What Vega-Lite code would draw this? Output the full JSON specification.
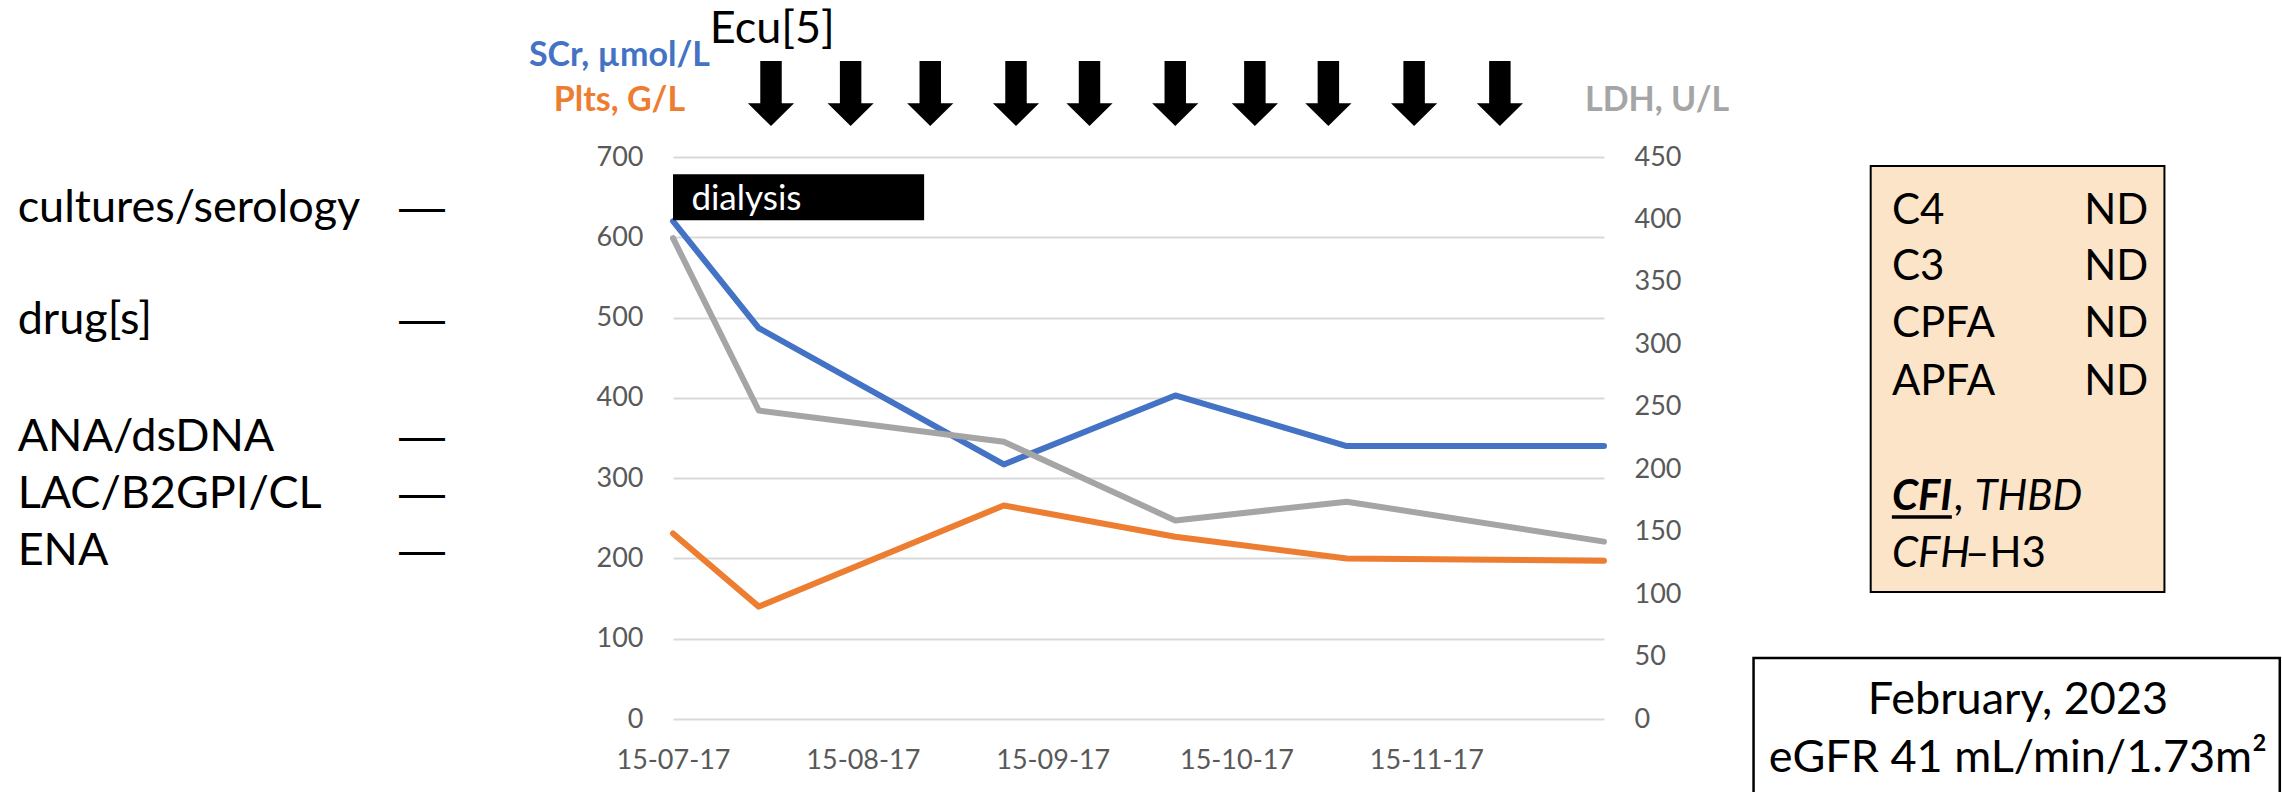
{
  "$schema": "https://vega.github.io/schema/vega-lite/v6.json",
  "width": 931,
  "height": 562,
  "autosize": {"type": "none"},
  "padding": {"left": 673, "top": 157, "right": 678, "bottom": 73},
  "background": "white",
  "config": {
    "view": {"stroke": null},
    "font": "Lato",
    "axis": {"labelFont": "Lato", "labelFontSize": 27, "labelColor": "#595959", "domain": false, "ticks": false, "title": null}
  },
  "datasets": {
    "labs": [
      {"date": "2017-07-15", "series": "SCr", "value": 620},
      {"date": "2017-07-29", "series": "SCr", "value": 487},
      {"date": "2017-09-07", "series": "SCr", "value": 317},
      {"date": "2017-10-05", "series": "SCr", "value": 403},
      {"date": "2017-11-02", "series": "SCr", "value": 340},
      {"date": "2017-12-14", "series": "SCr", "value": 340},
      {"date": "2017-07-15", "series": "Plts", "value": 231},
      {"date": "2017-07-29", "series": "Plts", "value": 140},
      {"date": "2017-09-07", "series": "Plts", "value": 266},
      {"date": "2017-10-05", "series": "Plts", "value": 227},
      {"date": "2017-11-02", "series": "Plts", "value": 200},
      {"date": "2017-12-14", "series": "Plts", "value": 197},
      {"date": "2017-07-15", "series": "LDH", "value": 385},
      {"date": "2017-07-29", "series": "LDH", "value": 247},
      {"date": "2017-09-07", "series": "LDH", "value": 222},
      {"date": "2017-10-05", "series": "LDH", "value": 159},
      {"date": "2017-11-02", "series": "LDH", "value": 174},
      {"date": "2017-12-14", "series": "LDH", "value": 142}
    ],
    "ecu": [
      {"date": "2017-07-31", "level": 779},
      {"date": "2017-08-13", "level": 779},
      {"date": "2017-08-26", "level": 779},
      {"date": "2017-09-09", "level": 779},
      {"date": "2017-09-21", "level": 779},
      {"date": "2017-10-05", "level": 779},
      {"date": "2017-10-18", "level": 779},
      {"date": "2017-10-30", "level": 779},
      {"date": "2017-11-13", "level": 779},
      {"date": "2017-11-27", "level": 779}
    ],
    "dialysis": [
      {"start": "2017-07-15", "end": "2017-08-25", "low": 621.2, "high": 678.5, "label": "dialysis", "labelDate": "2017-07-18", "labelLevel": 634}
    ],
    "notes": [
      {"date": "2017-07-21", "level": 842, "text": "Ecu[5]"},
      {"date": "2017-03-30", "level": 619, "text": "cultures/serology"},
      {"date": "2017-03-30", "level": 480, "text": "drug[s]"},
      {"date": "2017-03-30", "level": 333.8, "text": "ANA/dsDNA"},
      {"date": "2017-03-30", "level": 262.8, "text": "LAC/B2GPI/CL"},
      {"date": "2017-03-30", "level": 192.4, "text": "ENA"}
    ],
    "boxText": [
      {"date": "2018-01-30", "level": 617, "text": "C4"},
      {"date": "2018-01-30", "level": 546.8, "text": "C3"},
      {"date": "2018-01-30", "level": 475.3, "text": "CPFA"},
      {"date": "2018-01-30", "level": 403.8, "text": "APFA"},
      {"date": "2018-03-02T10:00:00Z", "level": 617, "text": "ND"},
      {"date": "2018-03-02T10:00:00Z", "level": 546.8, "text": "ND"},
      {"date": "2018-03-02T10:00:00Z", "level": 475.3, "text": "ND"},
      {"date": "2018-03-02T10:00:00Z", "level": 403.8, "text": "ND"},
      {"date": "2018-02-09T01:00:00Z", "level": 260.3, "text": ","},
      {"date": "2018-02-10T23:00:00Z", "level": 189.3, "text": "–H3"}
    ],
    "dashes": [
      {"date": "2017-06-04", "level": 619, "text": "—"},
      {"date": "2017-06-04", "level": 480, "text": "—"},
      {"date": "2017-06-04", "level": 333.8, "text": "—"},
      {"date": "2017-06-04", "level": 262.8, "text": "—"},
      {"date": "2017-06-04", "level": 192.4, "text": "—"}
    ],
    "titles": [
      {"date": "2017-07-06T06:00:00Z", "level": 813.3, "series": "SCr", "text": "SCr, µmol/L"},
      {"date": "2017-07-06T06:00:00Z", "level": 757.3, "series": "Plts", "text": "Plts, G/L"},
      {"date": "2017-12-22T16:00:00Z", "level": 757.3, "series": "LDH", "text": "LDH, U/L"}
    ],
    "italic": [
      {"date": "2018-02-12T12:00:00Z", "level": 260.3, "text": "THBD"},
      {"date": "2018-01-30", "level": 189.3, "text": "CFH"}
    ],
    "bolditalic": [
      {"date": "2018-01-30", "end": "2018-02-08T19:00:00Z", "level": 260.3, "underline": 251.6, "text": "CFI"}
    ],
    "complement": [
      {"start": "2018-01-26T13:00:00Z", "end": "2018-03-15T12:00:00Z", "low": 158.2, "high": 688.8}
    ],
    "followup": [
      {"start": "2018-01-07T10:00:00Z", "end": "2018-04-03T08:00:00Z", "low": -110, "high": 76}
    ],
    "followupText": [
      {"date": "2018-02-19T14:00:00Z", "level": 5.85, "text": "February, 2023"},
      {"date": "2018-02-19T14:00:00Z", "level": -65.6, "text": "eGFR 41 mL/min/1.73m²"}
    ]
  },
  "layer": [
    {
      "layer": [
        {
          "data": {"name": "labs"},
          "transform": [{"filter": "datum.series !== 'LDH'"}],
          "mark": {"type": "line", "strokeWidth": 6, "strokeCap": "round", "strokeJoin": "round"},
          "encoding": {
            "x": {
              "field": "date", "type": "temporal",
              "scale": {"type": "utc", "nice": false, "domain": [{"year": 2017, "month": 7, "date": 15, "utc": true}, {"year": 2017, "month": 12, "date": 14, "utc": true}]},
              "axis": {
                "title": null,
                "values": [
                  {"year": 2017, "month": 7, "date": 15, "utc": true},
                  {"year": 2017, "month": 8, "date": 15, "utc": true},
                  {"year": 2017, "month": 9, "date": 15, "utc": true},
                  {"year": 2017, "month": 10, "date": 15, "utc": true},
                  {"year": 2017, "month": 11, "date": 15, "utc": true}
                ],
                "labelExpr": "utcFormat(datum.value, '%d-%m-%y')",
                "grid": false, "labelPadding": 28, "labelFlush": false, "labelOverlap": false
              }
            },
            "y": {
              "field": "value", "type": "quantitative",
              "scale": {"domain": [0, 700], "nice": false},
              "axis": {"title": null, "values": [0, 100, 200, 300, 400, 500, 600, 700], "grid": true, "gridColor": "#D9D9D9", "gridWidth": 2, "labelPadding": 30}
            },
            "color": {"field": "series", "type": "nominal", "scale": {"domain": ["SCr", "Plts", "LDH"], "range": ["#4472C4", "#ED7D31", "#A5A5A5"]}, "legend": null}
          }
        },
        {
          "data": {"name": "dialysis"},
          "mark": {"type": "rect", "color": "black"},
          "encoding": {
            "x": {"field": "start", "type": "temporal"},
            "x2": {"field": "end"},
            "y": {"field": "high", "type": "quantitative"},
            "y2": {"field": "low"}
          }
        },
        {
          "data": {"name": "dialysis"},
          "mark": {"type": "text", "color": "white", "font": "Lato", "fontSize": 35, "align": "left", "baseline": "alphabetic"},
          "encoding": {
            "x": {"field": "labelDate", "type": "temporal"},
            "y": {"field": "labelLevel", "type": "quantitative"},
            "text": {"field": "label"}
          }
        },
        {
          "data": {"name": "ecu"},
          "mark": {"type": "point", "filled": true, "color": "black", "opacity": 1, "size": 4225, "shape": "M-0.33,-1L0.33,-1L0.33,0.3L0.71,0.3L0,1L-0.71,0.3L-0.33,0.3Z"},
          "encoding": {
            "x": {"field": "date", "type": "temporal"},
            "y": {"field": "level", "type": "quantitative"}
          }
        },
        {
          "data": {"name": "complement"},
          "mark": {"type": "rect", "fill": "#FCE4C8", "stroke": "black", "strokeWidth": 2},
          "encoding": {
            "x": {"field": "start", "type": "temporal"},
            "x2": {"field": "end"},
            "y": {"field": "high", "type": "quantitative"},
            "y2": {"field": "low"}
          }
        },
        {
          "data": {"name": "followup"},
          "mark": {"type": "rect", "fill": "white", "stroke": "black", "strokeWidth": 2.5},
          "encoding": {
            "x": {"field": "start", "type": "temporal"},
            "x2": {"field": "end"},
            "y": {"field": "high", "type": "quantitative"},
            "y2": {"field": "low"}
          }
        },
        {
          "data": {"name": "notes"},
          "mark": {"type": "text", "color": "black", "font": "Lato", "fontSize": 45, "align": "left", "baseline": "alphabetic"},
          "encoding": {
            "x": {"field": "date", "type": "temporal"},
            "y": {"field": "level", "type": "quantitative"},
            "text": {"field": "text"}
          }
        },
        {
          "data": {"name": "boxText"},
          "mark": {"type": "text", "color": "black", "font": "Lato", "fontSize": 42, "align": "left", "baseline": "alphabetic"},
          "encoding": {
            "x": {"field": "date", "type": "temporal"},
            "y": {"field": "level", "type": "quantitative"},
            "text": {"field": "text"}
          }
        },
        {
          "data": {"name": "dashes"},
          "mark": {"type": "text", "color": "black", "font": "Liberation Sans", "fontSize": 46, "align": "center", "baseline": "alphabetic"},
          "encoding": {
            "x": {"field": "date", "type": "temporal"},
            "y": {"field": "level", "type": "quantitative"},
            "text": {"field": "text"}
          }
        },
        {
          "data": {"name": "titles"},
          "mark": {"type": "text", "font": "Lato", "fontWeight": "bold", "fontSize": 34, "align": "center", "baseline": "alphabetic"},
          "encoding": {
            "x": {"field": "date", "type": "temporal"},
            "y": {"field": "level", "type": "quantitative"},
            "text": {"field": "text"},
            "color": {"field": "series", "type": "nominal", "legend": null}
          }
        },
        {
          "data": {"name": "italic"},
          "mark": {"type": "text", "color": "black", "font": "Lato", "fontStyle": "italic", "fontSize": 42, "align": "left", "baseline": "alphabetic"},
          "encoding": {
            "x": {"field": "date", "type": "temporal"},
            "y": {"field": "level", "type": "quantitative"},
            "text": {"field": "text"}
          }
        },
        {
          "data": {"name": "bolditalic"},
          "mark": {"type": "text", "color": "black", "font": "Lato", "fontStyle": "italic", "fontWeight": "bold", "fontSize": 42, "align": "left", "baseline": "alphabetic"},
          "encoding": {
            "x": {"field": "date", "type": "temporal"},
            "y": {"field": "level", "type": "quantitative"},
            "text": {"field": "text"}
          }
        },
        {
          "data": {"name": "bolditalic"},
          "mark": {"type": "rule", "color": "black", "strokeWidth": 3.5},
          "encoding": {
            "x": {"field": "date", "type": "temporal"},
            "x2": {"field": "end"},
            "y": {"field": "underline", "type": "quantitative"}
          }
        },
        {
          "data": {"name": "followupText"},
          "mark": {"type": "text", "color": "black", "font": "Lato", "fontSize": 45, "align": "center", "baseline": "alphabetic"},
          "encoding": {
            "x": {"field": "date", "type": "temporal"},
            "y": {"field": "level", "type": "quantitative"},
            "text": {"field": "text"}
          }
        }
      ]
    },
    {
      "layer": [
        {
          "data": {"name": "labs"},
          "transform": [{"filter": "datum.series === 'LDH'"}],
          "mark": {"type": "line", "strokeWidth": 6, "strokeCap": "round", "strokeJoin": "round"},
          "encoding": {
            "x": {"field": "date", "type": "temporal"},
            "y": {
              "field": "value", "type": "quantitative",
              "scale": {"domain": [0, 450], "nice": false},
              "axis": {"title": null, "orient": "right", "values": [0, 50, 100, 150, 200, 250, 300, 350, 400, 450], "grid": false, "labelPadding": 30}
            },
            "color": {"field": "series", "type": "nominal", "legend": null}
          }
        }
      ]
    }
  ],
  "resolve": {"scale": {"y": "independent"}}
}
